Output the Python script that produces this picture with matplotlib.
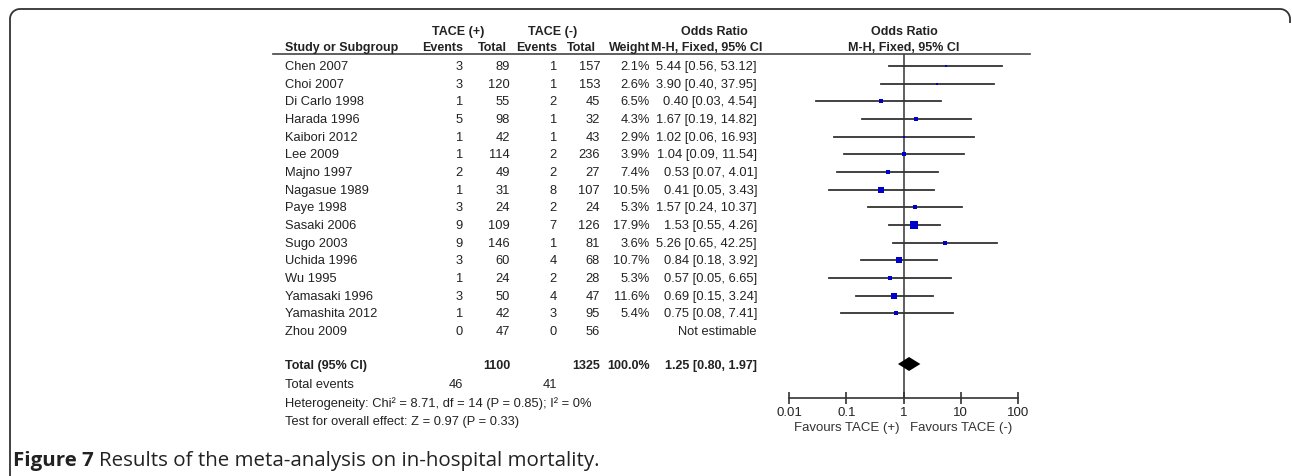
import numpy as np
import matplotlib.pyplot as plt

# --- data ---
studies = ["Chen 2007", "Choi 2007", "Di Carlo 1998", "Harada 1996", "Kaibori 2012",
           "Lee 2009", "Majno 1997", "Nagasue 1989", "Paye 1998", "Sasaki 2006",
           "Sugo 2003", "Uchida 1996", "Wu 1995", "Yamasaki 1996", "Yamashita 2012",
           "Zhou 2009"]
ev_pos = [3, 3, 1, 5, 1, 1, 2, 1, 3, 9, 9, 3, 1, 3, 1, 0]
tot_pos = [89, 120, 55, 98, 42, 114, 49, 31, 24, 109, 146, 60, 24, 50, 42, 47]
ev_neg = [1, 1, 2, 1, 1, 2, 2, 8, 2, 7, 1, 4, 2, 4, 3, 0]
tot_neg = [157, 153, 45, 32, 43, 236, 27, 107, 24, 126, 81, 68, 28, 47, 95, 56]
weight = [2.1, 2.6, 6.5, 4.3, 2.9, 3.9, 7.4, 10.5, 5.3, 17.9, 3.6, 10.7, 5.3, 11.6, 5.4, None]
odds = [5.44, 3.90, 0.40, 1.67, 1.02, 1.04, 0.53, 0.41, 1.57, 1.53, 5.26, 0.84, 0.57, 0.69, 0.75, None]
ci_lo = [0.56, 0.40, 0.03, 0.19, 0.06, 0.09, 0.07, 0.05, 0.24, 0.55, 0.65, 0.18, 0.05, 0.15, 0.08, None]
ci_hi = [53.12, 37.95, 4.54, 14.82, 16.93, 11.54, 4.01, 3.43, 10.37, 4.26, 42.25, 3.92, 6.65, 3.24, 7.41, None]

total_pos, total_neg = 1100, 1325
total_ev_pos, total_ev_neg = 46, 41
total_or, total_lo, total_hi = 1.25, 0.80, 1.97
heterogeneity = "Heterogeneity: Chi\u00b2 = 8.71, df = 14 (P = 0.85); I\u00b2 = 0%"
overall = "Test for overall effect: Z = 0.97 (P = 0.33)"
ticks = [0.01, 0.1, 1, 10, 100]
tick_labels = ["0.01", "0.1", "1", "10", "100"]

W, H = 1292, 477
fig = plt.figure(figsize=(W / 100, H / 100), dpi=100)
bg = fig.add_axes([0, 0, 1, 1])
bg.set_xlim(0, W)
bg.set_ylim(H, 0)
bg.axis("off")

font = "Liberation Sans"
fs = 9.3
dark = "#222222"

# border: top line with rounded corners and left side
r = 10
t = np.linspace(np.pi, 1.5 * np.pi, 20)
left_arc = np.c_[10 + r + r * np.cos(t), 10 + r + r * np.sin(t)]
t2 = np.linspace(1.5 * np.pi, 2 * np.pi, 20)
right_arc = np.c_[1280 + r * np.cos(t2), 10 + r + r * np.sin(t2)]
border = np.vstack([[10, H], left_arc, right_arc, [1290, 24]])
bg.plot(border[:, 0], border[:, 1], color="#333333", lw=1.3, solid_capstyle="butt")

# column layout (right edges, px)
x_study = 285
x_evp, x_totp, x_evn, x_totn, x_w, x_ci = 463, 510, 557, 600, 650, 757
row0, row_h = 67, 17.67
rows_y = [row0 + i * row_h for i in range(len(studies))]
y_total = 366
y_tev = 385

# headers
hb = dict(fontsize=9.0, family=font, fontweight="bold", va="center", color=dark)
bg.text(458, 32, "TACE (+)", ha="center", **hb)
bg.text(553, 32, "TACE (-)", ha="center", **hb)
bg.text(714, 32, "Odds Ratio", ha="center", **hb)
bg.text(904, 32, "Odds Ratio", ha="center", **hb)
bg.text(x_study, 48, "Study or Subgroup", ha="left", **hb)
bg.text(x_evp, 48, "Events", ha="right", **hb)
bg.text(x_totp - 3, 48, "Total", ha="right", **hb)
bg.text(x_evn, 48, "Events", ha="right", **hb)
bg.text(x_totn - 4, 48, "Total", ha="right", **hb)
bg.text(x_w, 48, "Weight", ha="right", **hb)
bg.text(x_ci + 5, 48, "M-H, Fixed, 95% CI", ha="right", **hb)
bg.text(904, 48, "M-H, Fixed, 95% CI", ha="center", **hb)
bg.plot([273, 1030], [55, 55], color="#444444", lw=1.2)

# study rows
tr = dict(fontsize=fs, family=font, va="center", color=dark)
for i, name in enumerate(studies):
    y = rows_y[i]
    bg.text(x_study, y, name, ha="left", **tr)
    bg.text(x_evp, y, str(ev_pos[i]), ha="right", **tr)
    bg.text(x_totp, y, str(tot_pos[i]), ha="right", **tr)
    bg.text(x_evn, y, str(ev_neg[i]), ha="right", **tr)
    bg.text(x_totn, y, str(tot_neg[i]), ha="right", **tr)
    if weight[i] is not None:
        bg.text(x_w, y, f"{weight[i]:.1f}%", ha="right", **tr)
        bg.text(x_ci, y, f"{odds[i]:.2f} [{ci_lo[i]:.2f}, {ci_hi[i]:.2f}]", ha="right", **tr)
    else:
        bg.text(x_ci, y, "Not estimable", ha="right", **tr)

# totals
tb = dict(tr, fontweight="bold", fontsize=9.0)
bg.text(x_study, y_total, "Total (95% CI)", ha="left", **tb)
bg.text(x_totp, y_total, str(total_pos), ha="right", **tb)
bg.text(x_totn, y_total, str(total_neg), ha="right", **tb)
bg.text(x_w, y_total, "100.0%", ha="right", **tb)
bg.text(x_ci, y_total, f"{total_or:.2f} [{total_lo:.2f}, {total_hi:.2f}]", ha="right", **tb)
bg.text(x_study, y_tev, "Total events", ha="left", **tr)
bg.text(x_evp, y_tev, str(total_ev_pos), ha="right", **tr)
bg.text(x_evn, y_tev, str(total_ev_neg), ha="right", **tr)
bg.text(x_study, 404, heterogeneity, ha="left", **tr)
bg.text(x_study, 422, overall, ha="left", **tr)

# forest plot axes: x 0.01..100 -> 789..1018 px, y in px 55..399
x0, x1, ytop, ybot = 789, 1018, 55, 399
fa = fig.add_axes([x0 / W, 1 - ybot / H, (x1 - x0) / W, (ybot - ytop) / H])
fa.set_xscale("log")
fa.set_xlim(0.01, 100)
fa.set_ylim(ybot, ytop)
fa.patch.set_visible(False)
for s in ["top", "left", "right"]:
    fa.spines[s].set_visible(False)
fa.spines["bottom"].set_color("#333333")
fa.spines["bottom"].set_linewidth(1.2)
fa.set_yticks([])
fa.set_xticks(ticks)
fa.set_xticklabels(tick_labels, family=font, fontsize=9.5, color=dark)
fa.xaxis.set_minor_locator(plt.NullLocator())
fa.tick_params(axis="x", direction="inout", length=8, width=1.2, color="#333333", pad=2)
fa.axvline(1, color="#444444", lw=1.2, zorder=1)

for i in range(len(studies)):
    if odds[i] is None:
        continue
    y = rows_y[i]
    fa.plot([ci_lo[i], ci_hi[i]], [y, y], color="#333333", lw=1.3, zorder=2)
    side_px = 1.75 * np.sqrt(weight[i])
    fa.plot(odds[i], y, marker="s", ms=side_px * 0.72, color="#0000cc",
            mec="#0000cc", mew=0, zorder=3)

# pooled diamond
fa.fill([total_lo, total_or, total_hi, total_or], [y_total - 1, y_total - 8, y_total - 1, y_total + 6],
        color="black", zorder=3, lw=0)

fa.text(0.1, 428, "Favours TACE (+)", ha="center", va="center", family=font,
        fontsize=9.5, color="#333333", transform=fa.transData, clip_on=False)
fa.text(10, 428, "Favours TACE (-)", ha="center", va="center", family=font,
        fontsize=9.5, color="#333333", transform=fa.transData, clip_on=False)

# caption
cap_fs = 14.75
t1 = bg.text(13, 461, "Figure 7", ha="left", va="center", family="Open Sans",
             fontweight="bold", fontsize=cap_fs, color="#222222")
fig.canvas.draw()
bb = t1.get_window_extent()
bg.text(bb.x1 + 5, 461, "Results of the meta-analysis on in-hospital mortality.", ha="left",
        va="center", family="Open Sans", fontsize=cap_fs, color="#222222")

fig.savefig("out.png", dpi=100)
